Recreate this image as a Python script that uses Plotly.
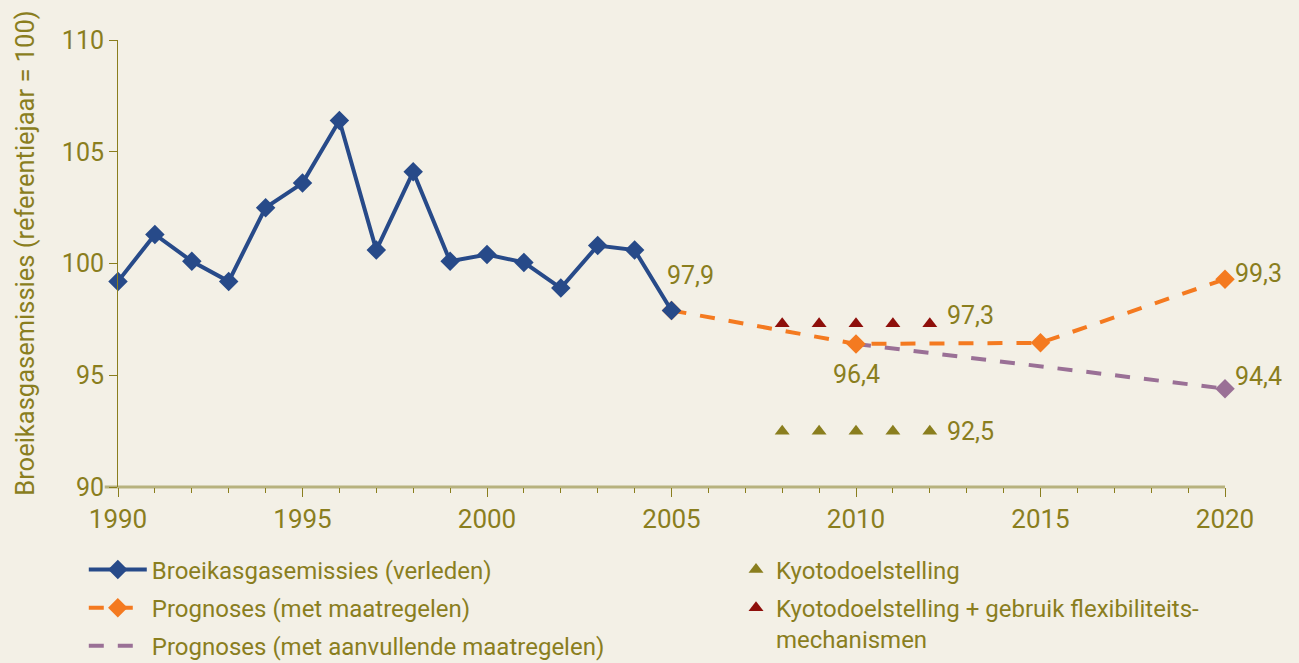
import plotly.graph_objects as go

# ---------------- data ----------------
hist_years = list(range(1990, 2006))
hist_vals = [99.2, 101.3, 100.1, 99.2, 102.5, 103.6, 106.4, 100.6, 104.1,
             100.1, 100.4, 100.05, 98.9, 100.8, 100.6, 97.9]

prog_years = [2005, 2010, 2015, 2020]
prog_vals = [97.9, 96.4, 96.45, 99.3]

extra_years = [2010, 2020]
extra_vals = [96.4, 94.4]

kyoto_years = [2008, 2009, 2010, 2011, 2012]
kyoto_vals = [92.5, 92.5, 92.5, 92.5, 92.5]
kyoto_flex_vals = [97.3, 97.3, 97.3, 97.3, 97.3]

x_ticks = [1990, 1995, 2000, 2005, 2010, 2015, 2020]
y_ticks = [90, 95, 100, 105, 110]

names = ["Broeikasgasemissies (verleden)",
         "Prognoses (met maatregelen)",
         "Prognoses (met aanvullende maatregelen)",
         "Kyotodoelstelling",
         "Kyotodoelstelling + gebruik flexibiliteits-<br>mechanismen"]
y_title = "Broeikasgasemissies (referentiejaar = 100)"

# ---------------- style ----------------
BG = "#F3F0E6"
OLIVE = "#8A7E1E"
BLUE = "#274A89"
ORANGE = "#F47A20"
PURPLE = "#9A7096"
RED = "#8E0F0B"
KHAKI = "#B7B27E"
FONT = "Roboto"


def fmt(v):
    return f"{v:.1f}".replace(".", ",")


fig = go.Figure()

fig.add_trace(go.Scatter(
    x=extra_years, y=extra_vals, mode="lines", name=names[2],
    line=dict(color=PURPLE, width=4, dash="15px,14px"), cliponaxis=False,
    legend="legend", legendgroup="c", legendrank=3))
fig.add_trace(go.Scatter(
    x=extra_years[-1:], y=extra_vals[-1:], mode="markers", showlegend=False,
    marker=dict(symbol="diamond", size=15, color=PURPLE), cliponaxis=False))

fig.add_trace(go.Scatter(
    x=prog_years, y=prog_vals, mode="lines+markers", name=names[1],
    line=dict(color=ORANGE, width=4, dash="15px,14px"), cliponaxis=False,
    marker=dict(symbol="diamond", size=15, color=ORANGE),
    legend="legend", legendgroup="b", legendrank=2))

fig.add_trace(go.Scatter(
    x=hist_years, y=hist_vals, mode="lines+markers", name=names[0],
    line=dict(color=BLUE, width=4), cliponaxis=False,
    marker=dict(symbol="diamond", size=15, color=BLUE),
    legend="legend", legendgroup="a", legendrank=1))

fig.add_trace(go.Scatter(
    x=kyoto_years, y=kyoto_vals, mode="markers", name=names[3],
    marker=dict(symbol="triangle-up", size=13, color=OLIVE), cliponaxis=False,
    legend="legend2", legendgroup="d", legendrank=4))
fig.add_trace(go.Scatter(
    x=kyoto_years, y=kyoto_flex_vals, mode="markers", name=names[4],
    marker=dict(symbol="triangle-up", size=13, color=RED), cliponaxis=False,
    legend="legend2", legendgroup="e", legendrank=5))

# value labels
labels = [
    (hist_years[-1], hist_vals[-1], "left", -7, 35),
    (prog_years[1], prog_vals[1], "center", 0, -31),
    (kyoto_years[-1], kyoto_flex_vals[-1], "left", 15, 8),
    (prog_years[-1], prog_vals[-1], "left", 8, 6),
    (extra_years[-1], extra_vals[-1], "left", 8, 12),
    (kyoto_years[-1], kyoto_vals[-1], "left", 15, 0),
]
for x, y, anc, xs, ys in labels:
    fig.add_annotation(x=x, y=y, text=fmt(y), showarrow=False,
                       xanchor=anc, yanchor="middle", xshift=xs, yshift=ys,
                       font=dict(family=FONT, size=25, color=OLIVE))

# y-axis title (rotated)
fig.add_annotation(xref="paper", yref="paper", x=-0.084, y=0.522,
                   text=y_title, textangle=-90, showarrow=False,
                   xanchor="center", yanchor="middle",
                   font=dict(family=FONT, size=25.5, color=OLIVE))

# x-axis baseline (extends slightly left of the y axis)
fig.add_shape(type="line", xref="paper", yref="paper", x0=-0.012, x1=1.0,
              y0=0, y1=0, line=dict(color=KHAKI, width=3), layer="below")

fig.update_layout(
    width=1299, height=663, autosize=False,
    paper_bgcolor=BG, plot_bgcolor=BG,
    margin=dict(l=118, r=74, t=40, b=176, autoexpand=False),
    font=dict(family=FONT, color=OLIVE, size=24),
    xaxis=dict(range=[1990, 2020], tickvals=x_ticks, showgrid=False,
               zeroline=False, showline=False, ticks="outside", ticklen=9,
               tickwidth=1, tickcolor=OLIVE,
               tickfont=dict(family=FONT, size=26, color=OLIVE),
               minor=dict(dtick=1, tick0=1990, ticks="outside", ticklen=5,
                          tickwidth=1, tickcolor=OLIVE, showgrid=False),
               ticklabelstandoff=0),
    yaxis=dict(range=[90, 110], tickvals=y_ticks, showgrid=False,
               zeroline=False, showline=True, linecolor=OLIVE, linewidth=1,
               ticks="outside", ticklen=8, tickwidth=1, tickcolor=OLIVE,
               tickfont=dict(family=FONT, size=25, color=OLIVE)),
    legend=dict(xref="container", yref="container", x=0.0645, y=0.1744,
                xanchor="left", yanchor="top",
                bgcolor="rgba(0,0,0,0)", itemwidth=58,
                traceorder="grouped", tracegroupgap=4,
                font=dict(family=FONT, size=24, color=OLIVE)),
    legend2=dict(xref="container", yref="container", x=0.5666, y=0.1744,
                 xanchor="left", yanchor="top",
                 bgcolor="rgba(0,0,0,0)", valign="top",
                 traceorder="grouped", tracegroupgap=4,
                 font=dict(family=FONT, size=24, color=OLIVE)),
)

fig.write_html("out.html",
               config={"displayModeBar": False},
               post_script="document.body.style.margin='0';"
                           "document.body.style.padding='0';"
                           "document.body.style.overflow='hidden';")
